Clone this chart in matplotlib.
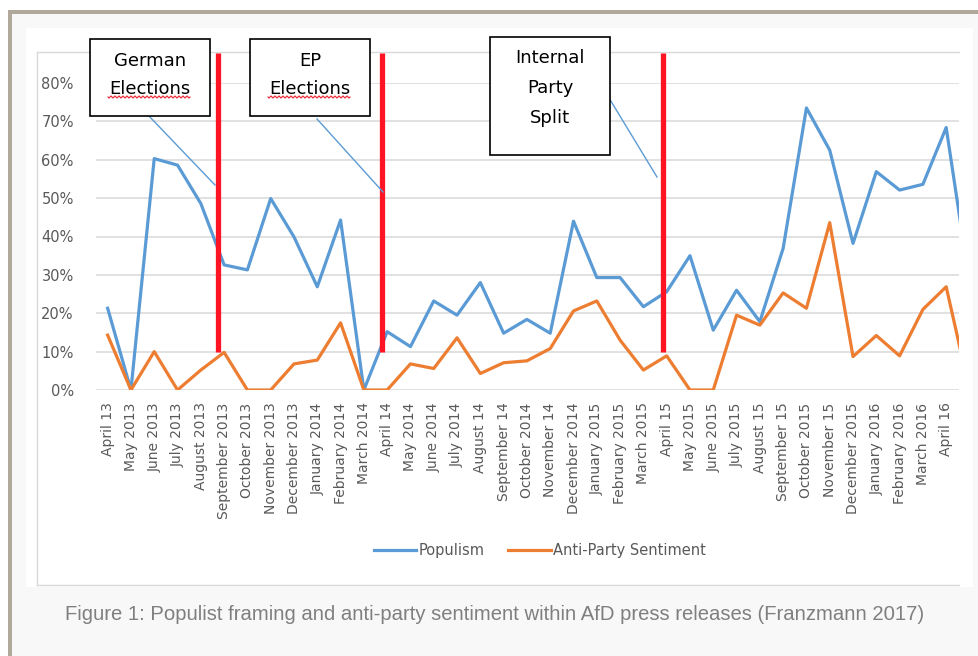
import matplotlib
matplotlib.use("Agg")
import matplotlib.pyplot as plt
import numpy as np
from matplotlib.patches import Rectangle
from matplotlib.lines import Line2D

# ---------------- data ----------------
categories = [
    "April 13", "May 2013", "June 2013", "July 2013", "August 2013", "September 2013",
    "October 2013", "November 2013", "December 2013", "January 2014", "February 2014",
    "March 2014", "April 14", "May 2014", "June 2014", "July 2014", "August 14",
    "September 14", "October 2014", "November 14", "December 2014", "January 2015",
    "February 2015", "March 2015", "April 15", "May 2015", "June 2015", "July 2015",
    "August 15", "September 15", "October 2015", "November 15", "December 2015",
    "January 2016", "February 2016", "March 2016", "April 16",
]
# last value belongs to the (cropped-off) next month, only partly visible
populism = [21.3, 0.0, 60.3, 58.6, 48.6, 32.6, 31.3, 49.9, 39.9, 26.9, 44.3, 0.0,
            15.2, 11.3, 23.2, 19.5, 28.0, 14.8, 18.4, 14.8, 44.0, 29.3, 29.3, 21.7,
            25.6, 35.0, 15.6, 26.0, 17.8, 36.9, 73.5, 62.5, 38.2, 56.9, 52.1, 53.6,
            68.4, 28.0]
anti_party = [14.3, 0.0, 10.0, 0.0, 5.2, 9.8, 0.0, 0.0, 6.8, 7.8, 17.5, 0.0,
              0.0, 6.8, 5.6, 13.6, 4.3, 7.1, 7.6, 10.8, 20.6, 23.2, 13.0, 5.2,
              8.9, 0.0, 0.0, 19.5, 16.9, 25.3, 21.3, 43.6, 8.7, 14.2, 8.9, 21.0,
              26.9, 0.0]
series_names = ["Populism", "Anti-Party Sentiment"]
y_ticks = [0, 10, 20, 30, 40, 50, 60, 70, 80]

event_labels = ["German\nElections", "EP\nElections", "Internal\nParty\nSplit"]
event_pos = [4.75, 11.79, 23.85]

# ---------------- figure ----------------
W, H = 979, 656
fig = plt.figure(figsize=(W / 100, H / 100), dpi=100, facecolor="white")


def rect(x0, y0, x1, y1, fc, ec="none", lw=0, z=-10):
    fig.patches.append(Rectangle((x0 / W, 1 - y1 / H), (x1 - x0) / W, (y1 - y0) / H,
                                 transform=fig.transFigure, facecolor=fc,
                                 edgecolor=ec, linewidth=lw, zorder=z))


def fline(xs, ys, color, lw, z=5):
    fig.add_artist(Line2D([x / W for x in xs], [1 - y / H for y in ys],
                          transform=fig.transFigure, color=color, lw=lw, zorder=z))


# outer frame and page background
rect(8, 10, 1200, 900, "#b1a89c")
rect(11.5, 13.5, 1200, 900, "#f8f8f8", z=-9)
rect(26, 28, 973, 587, "white", z=-8)
# chart border (left, top, bottom)
fline([37, 37], [52, 585], "#d9d9d9", 1.0, z=-7)
fline([37, 959], [52, 52], "#d9d9d9", 1.0, z=-7)
fline([37, 959], [585, 585], "#d9d9d9", 1.0, z=-7)

ax = fig.add_axes([96 / W, 1 - 390 / H, (959 - 96) / W, (390 - 83) / H])
ax.set_facecolor("none")
x = np.arange(len(populism))
y_pop = np.array(populism) / 100
y_anti = np.array(anti_party) / 100

l1, = ax.plot(x, y_pop, color="#5b9bd5", lw=2.3, solid_joinstyle="round", zorder=3)
l2, = ax.plot(x, y_anti, color="#ed7d31", lw=2.3, solid_joinstyle="round", zorder=3)

ax.set_xlim(-0.5, 36.55)
ax.set_ylim(0, 0.8)
ax.set_yticks([v / 100 for v in y_ticks])
ax.set_yticklabels([f"{v}%" for v in y_ticks])
ax.set_xticks(np.arange(len(categories)))
ax.set_xticklabels(categories, rotation=90)
ax.tick_params(axis="both", length=0, colors="#595959", labelsize=10)
ax.tick_params(axis="y", pad=16, labelsize=10.5)
ax.tick_params(axis="x", pad=9)
for s in ax.spines.values():
    s.set_visible(False)
ax.grid(axis="y", color="#d9d9d9", lw=1.1)
ax.set_axisbelow(True)

# event red lines
for xp in event_pos:
    ax.plot([xp, xp], [0.10, 0.878], color="#ff1424", lw=3.8, clip_on=False,
            solid_capstyle="butt", zorder=6)

# annotation boxes
boxes = [(90, 39, 210, 116), (250, 39, 370, 116), (490, 37, 610, 155)]
for (x0, y0, x1, y1), lab in zip(boxes, event_labels):
    rect(x0, y0, x1, y1, "white", ec="black", lw=1.2, z=8)
    lines = lab.split("\n")
    if len(lines) == 2:
        ys = [61, 89]
    else:
        ys = [58, 88, 118]
    for ln, yy in zip(lines, ys):
        fig.text(((x0 + x1) / 2) / W, 1 - yy / H, ln, ha="center", va="center",
                 fontsize=13, color="black", zorder=9)

# leader lines
fline([148, 215], [115, 185], "#5b9bd5", 1.0)
fline([317, 383], [119, 192], "#5b9bd5", 1.0)
fline([609, 657], [98, 177], "#5b9bd5", 1.0)

# spell-check squiggles under "Elections"
for xa, xb in [(108, 190), (268, 350)]:
    xs = np.linspace(xa, xb, 120)
    ys = 97 + 1.0 * np.sin((xs - xa) / 4.0 * 2 * np.pi)
    fline(list(xs), list(ys), "#e8202a", 0.8, z=10)

# legend
leg = ax.legend([l1, l2], series_names, loc="center", ncol=2, frameon=False,
                bbox_to_anchor=(540 / W, 1 - 551 / H), bbox_transform=fig.transFigure,
                handlelength=2.9, handletextpad=0.2, columnspacing=1.6, fontsize=10.5)
for t in leg.get_texts():
    t.set_color("#595959")

# caption
fig.text(495 / W, 1 - 615 / H,
         "Figure 1: Populist framing and anti-party sentiment within AfD press releases (Franzmann 2017)",
         ha="center", va="center", fontsize=14.6, color="#7f7f7f", family="Liberation Sans")

fig.savefig("out.png", dpi=100, facecolor=fig.get_facecolor())
